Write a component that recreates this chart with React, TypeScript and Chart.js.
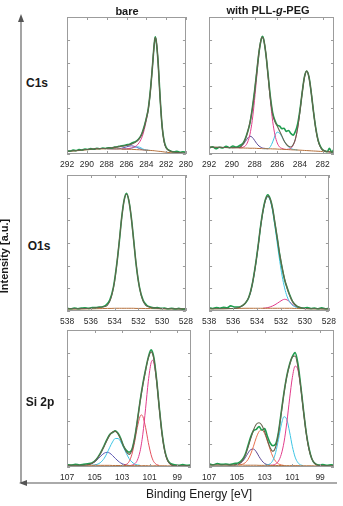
import React, { useEffect, useRef } from 'react';
import { Chart, registerables } from 'chart.js';

Chart.register(...registerables);

// ---------- tick labels ----------
const TICKS_C1S_BARE = [292, 290, 288, 286, 284, 282, 280];
const TICKS_C1S_PEG = [292, 290, 288, 286, 284, 282];
const TICKS_O1S = [538, 536, 534, 532, 530, 528];
const TICKS_SI = [107, 105, 103, 101, 99];

// ---------- C1s, bare ----------
const A_E = [292, 291, 290, 289, 288, 287, 286.5, 286, 285.5, 285, 284.7, 284.4, 284.2, 284, 283.8, 283.6, 283.4, 283.2, 283.1, 283, 282.9, 282.8, 282.6, 282.4, 282.2, 282, 281.6, 281, 280];
const A_FIT = [2.0, 2.6, 3.3, 3.9, 4.2, 5.0, 5.6, 6.2, 7.2, 9.0, 11.2, 15.5, 20, 26, 33, 45, 62, 80, 85, 83, 76, 66, 40, 20, 9, 4.5, 2.2, 1.2, 0.6];
const A_BG = [1.8, 2.4, 3.1, 3.6, 3.8, 3.7, 3.6, 3.5, 3.4, 3.2, 3.1, 3.0, 2.9, 2.8, 2.7, 2.6, 2.5, 2.4, 2.3, 2.2, 2.1, 2.0, 1.9, 1.7, 1.5, 1.3, 1.0, 0.7, 0.4];
const A_MAIN = [null, null, null, null, null, null, 3.6, 3.8, 4.4, 6.0, 8.5, 13, 18, 24.5, 32, 44.5, 62, 80, 85, 83, 76, 66, 40, 20, 9, 4.5, 2.2, 1.2, 0.6];
const A_BLUE = [null, null, null, null, 3.8, 3.7, 4.2, 5.2, 6.0, 5.0, 4.0, 3.2, 2.95, 2.8, 2.7, null, null, null, null, null, null, null, null, null, null, null, null, null, null];
const A_CYAN = [null, null, null, null, null, null, 3.6, 3.6, 4.2, 5.2, 5.0, 3.9, 3.2, 2.85, 2.7, 2.6, null, null, null, null, null, null, null, null, null, null, null, null, null];
const A_DE = [292, 291.7, 291.4, 291.1, 290.8, 290.5, 290.2, 289.9, 289.6, 289.3, 289.0, 288.7, 288.4, 288.1, 287.8, 287.5, 287.2, 286.9, 286.6, 286.3, 286.0, 285.7, 285.4, 285.1, 284.8, 284.5, 284.2, 284.0, 283.8, 283.6, 283.4, 283.2, 283.1, 283.0, 282.8, 282.6, 282.4, 282.2, 282.0, 281.8, 281.5, 281.2, 280.9, 280.6, 280.3, 280.0];
const A_DY = [2.3, 2.1, 2.8, 2.5, 3.2, 2.9, 3.6, 3.3, 3.9, 3.5, 4.2, 3.8, 4.4, 4.0, 4.6, 4.3, 5.0, 5.3, 5.9, 6.1, 6.8, 7.1, 8.2, 9.0, 10.8, 14.0, 20.5, 26, 33, 45.5, 62, 80, 85.5, 82.5, 66, 40.5, 20, 9.5, 4.8, 3.2, 2.0, 1.6, 1.9, 1.3, 1.6, 1.2];

// ---------- C1s, with PLL-g-PEG ----------
const B_E = [292, 291, 290, 289.4, 289.2, 289.0, 288.8, 288.6, 288.4, 288.2, 288.0, 287.8, 287.6, 287.4, 287.3, 287.2, 287.0, 286.8, 286.6, 286.4, 286.2, 286.0, 285.8, 285.6, 285.4, 285.2, 285.0, 284.8, 284.6, 284.4, 284.2, 284.0, 283.8, 283.6, 283.4, 283.2, 283.0, 282.8, 282.6, 282.4, 282.2, 282.0, 281.5, 281];
const B_BG = [5.0, 4.8, 4.6, 4.5, 4.4, 4.4, 4.3, 4.3, 4.2, 4.2, 4.2, 4.1, 4.0, 4.0, 3.9, 3.9, 3.9, 3.8, 3.8, 3.7, 3.7, 3.6, 3.5, 3.5, 3.4, 3.3, 3.2, 3.1, 3.0, 3.0, 2.9, 2.8, 2.7, 2.6, 2.5, 2.4, 2.3, 2.2, 2.1, 2.0, 1.9, 1.8, 1.6, 1.4];
const B_FIT = [5.0, 4.8, 4.6, 4.7, 5.5, 7.5, 10.9, 16.1, 23.2, 32.4, 45.0, 60.3, 75.2, 84.4, 85.4, 83.8, 73.4, 56.7, 40.4, 29.0, 23.5, 20.5, 16.9, 13.4, 9.7, 7.2, 5.6, 5.1, 6.7, 10.9, 19.0, 31.0, 44.8, 56.1, 60.5, 55.9, 44.4, 30.4, 18.2, 9.8, 5.2, 2.9, 1.7, 1.4];
const B_PEAK1 = [null, null, null, 4.5, 4.5, 5.0, 6.0, 8.8, 14.4, 24.4, 39.2, 56.8, 73.4, 83.6, 84.9, 83.5, 73.3, 56.5, 38.8, 23.9, 13.9, 8.1, 5.2, 4.1, 3.5, 3.3, null, null, null, null, null, null, null, null, null, null, null, null, null, null, null, null, null, null];
const B_BLUE = [null, null, 4.6, 4.7, 5.4, 6.9, 9.2, 11.6, 13.0, 12.2, 10.0, 7.6, 5.8, 4.8, 4.4, 4.2, 4.0, 3.8, null, null, null, null, null, null, null, null, null, null, null, null, null, null, null, null, null, null, null, null, null, null, null, null, null, null];
const B_CYAN = [null, null, null, null, null, null, null, null, null, null, null, null, null, null, null, 3.9, 3.9, 4.0, 5.4, 8.8, 13.3, 16.0, 15.2, 12.8, 9.6, 7.0, 5.2, 4.0, 3.4, 3.1, 2.9, null, null, null, null, null, null, null, null, null, null, null, null, null];
const B_PEAK2 = [null, null, null, null, null, null, null, null, null, null, null, null, null, null, null, null, null, null, null, null, null, null, null, null, null, 3.3, 3.55, 4.2, 6.3, 10.8, 19.0, 31.0, 44.8, 56.1, 60.5, 55.9, 44.4, 30.4, 18.2, 9.8, 5.2, 2.9, 1.7, 1.4];
const B_DE = [292, 291.7, 291.4, 291.1, 290.8, 290.5, 290.2, 289.9, 289.6, 289.3, 289.0, 288.8, 288.6, 288.4, 288.2, 288.0, 287.8, 287.6, 287.4, 287.3, 287.2, 287.0, 286.8, 286.6, 286.4, 286.2, 286.0, 285.8, 285.6, 285.4, 285.2, 285.0, 284.8, 284.6, 284.4, 284.2, 284.0, 283.8, 283.6, 283.4, 283.2, 283.0, 282.8, 282.6, 282.4, 282.2, 282.0, 281.8, 281.6, 281.4, 281.2, 281.0];
const B_DY = [4.2, 5.3, 3.8, 4.9, 4.4, 5.6, 4.6, 5.8, 5.0, 6.2, 8.0, 11.5, 16.5, 22.5, 33, 45.5, 60, 74.5, 84, 86, 84, 73, 57.5, 41.5, 30, 24.5, 21, 20.5, 18.5, 18.8, 16.5, 17.2, 15, 13.8, 16.5, 22, 32, 45, 56.5, 60.5, 56, 44.5, 30.5, 18.5, 10, 5.5, 3.0, 2.2, 1.6, 4.2, 1.2, 3.5];

// ---------- O1s, bare ----------
const C_E = [538, 537, 536, 535.5, 535, 534.6, 534.3, 534.0, 533.8, 533.6, 533.4, 533.2, 533.0, 532.8, 532.6, 532.4, 532.2, 532.0, 531.7, 531.4, 531.0, 530.5, 530, 529, 528];
const C_FIT = [1.6, 1.7, 2.0, 2.4, 3.0, 4.3, 9.6, 22, 35.5, 52, 68.8, 81.3, 86, 81.3, 68.8, 52, 35.5, 22, 9.6, 4.3, 2.8, 2.1, 1.8, 1.6, 1.5];
const C_BG = [1.4, 1.5, 1.6, 1.7, 1.8, 1.9, 1.9, 2.0, 2.0, 2.0, 2.0, 2.0, 2.0, 2.0, 2.0, 2.0, 1.9, 1.9, 1.9, 1.8, 1.8, 1.7, 1.6, 1.5, 1.4];
const C_DE = [538, 537.7, 537.4, 537.1, 536.8, 536.5, 536.2, 535.9, 535.6, 535.3, 535.0, 534.7, 534.4, 534.1, 533.8, 533.6, 533.4, 533.2, 533.0, 532.8, 532.6, 532.4, 532.2, 531.9, 531.6, 531.3, 531.0, 530.7, 530.4, 530.1, 529.8, 529.5, 529.2, 528.9, 528.6, 528.3, 528.0];
const C_DY = [2.0, 1.6, 2.2, 1.7, 2.1, 2.4, 1.9, 2.6, 2.5, 2.9, 3.2, 4.6, 8.2, 17.5, 35.8, 51.5, 69, 81.5, 86.5, 81, 69, 52.5, 35, 17, 7.8, 4.2, 2.9, 2.3, 2.6, 1.9, 2.2, 1.6, 2.0, 1.5, 1.9, 1.4, 1.7];

// ---------- O1s, with PLL-g-PEG ----------
const D_E = [538, 537, 536, 535.5, 535.0, 534.6, 534.3, 534.1, 533.9, 533.7, 533.5, 533.3, 533.1, 532.9, 532.7, 532.5, 532.3, 532.1, 531.9, 531.7, 531.5, 531.3, 531.1, 530.9, 530.7, 530.5, 530.2, 530, 529, 528];
const D_BG = [1.6, 1.7, 1.8, 1.9, 2.0, 2.0, 2.0, 2.0, 2.0, 2.0, 2.0, 2.0, 2.0, 2.0, 2.0, 2.0, 2.0, 2.0, 2.0, 2.0, 2.0, 2.0, 2.0, 1.9, 1.9, 1.8, 1.8, 1.7, 1.6, 1.5];
const D_FIT = [1.6, 1.7, 1.8, 2.5, 5.6, 12, 24, 35, 48, 62, 73.4, 81.4, 84.5, 82.2, 75.1, 64.6, 52.8, 41.4, 31.6, 23.6, 17.1, 12, 8, 5.4, 3.6, 2.7, 2.1, 1.8, 1.6, 1.5];
const D_MAIN = [null, null, 1.8, 2.5, 5.6, 12, 24, 35, 48, 62, 73.4, 81.2, 84, 81.2, 73.4, 62, 49.1, 36.5, 25.6, 17, 10.9, 7, 4.6, 3.4, 2.6, 2.2, 2.0, 1.8, null, null];
const D_PINK = [null, null, null, null, null, null, null, null, null, null, 2.0, 2.2, 2.5, 3.0, 3.7, 4.6, 5.7, 6.9, 8.0, 8.6, 8.2, 7.0, 5.4, 3.9, 2.9, 2.3, 1.9, 1.7, null, null];
const D_DE = [538, 537.7, 537.4, 537.1, 536.8, 536.5, 536.2, 535.9, 535.6, 535.3, 535.0, 534.7, 534.4, 534.1, 533.9, 533.7, 533.5, 533.3, 533.1, 532.9, 532.7, 532.5, 532.3, 532.1, 531.9, 531.7, 531.5, 531.3, 531.0, 530.7, 530.4, 530.1, 529.8, 529.5, 529.2, 528.9, 528.6, 528.3, 528.0];
const D_DY = [2.4, 1.8, 2.6, 2.0, 2.8, 2.3, 3.8, 3.0, 2.9, 3.6, 5.5, 9.8, 19.5, 35.5, 48.5, 62.5, 74, 82, 85.5, 82.5, 75.5, 64, 53, 41, 31.5, 23, 17.5, 12.5, 6.5, 3.8, 2.6, 2.1, 2.5, 1.8, 2.2, 1.6, 2.3, 1.7, 2.0];

// ---------- Si 2p, bare ----------
const E_E = [107, 106.5, 106, 105.6, 105.2, 104.9, 104.6, 104.3, 104.1, 103.9, 103.7, 103.5, 103.3, 103.1, 102.9, 102.7, 102.5, 102.3, 102.1, 101.9, 101.7, 101.6, 101.5, 101.3, 101.1, 100.9, 100.8, 100.7, 100.5, 100.3, 100.1, 99.9, 99.7, 99.5, 99.3, 99.0, 98.5, 98];
const E_BG = [1.3, 1.3, 1.3, 1.3, 1.2, 1.2, 1.2, 1.2, 1.2, 1.2, 1.1, 1.1, 1.1, 1.1, 1.1, 1.1, 1.0, 1.0, 1.0, 1.0, 1.0, 1.0, 1.0, 1.0, 0.9, 0.9, 0.9, 0.9, 0.9, 0.9, 0.9, 0.9, 0.8, 0.8, 0.8, 0.8, 0.8, 0.8];
const E_FIT = [1.3, 1.3, 1.3, 1.5, 2.6, 5.0, 9.35, 15.3, 19.6, 23.3, 25.6, 26.0, 24.1, 20.1, 15.4, 11.2, 9.2, 12.0, 20.3, 33.3, 47.5, 53.9, 59.8, 70.4, 79.5, 84.0, 82.9, 78.9, 63.4, 42.6, 23.8, 11.3, 4.7, 2.0, 1.1, 0.8, 0.8, 0.8];
const E_PURPLE = [null, null, null, 1.5, 2.5, 4.5, 7.5, 10.1, 10.7, 10.1, 8.4, 6.3, 4.4, 2.9, 2.0, 1.5, 1.1, null, null, null, null, null, null, null, null, null, null, null, null, null, null, null, null, null, null, null, null, null];
const E_CYAN = [null, null, null, null, 1.3, 1.7, 3.05, 6.4, 10.1, 14.4, 18.3, 20.8, 20.8, 18.3, 14.3, 10.0, 6.2, 3.7, 2.2, 1.5, 1.2, null, null, null, null, null, null, null, null, null, null, null, null, null, null, null, null, null];
const E_RED = [null, null, null, null, null, null, null, null, null, null, null, null, null, null, 1.3, 1.9, 3.9, 9.0, 17.9, 28.9, 36.9, 38, 36.9, 28.9, 17.9, 9.0, 5.9, 3.8, 1.8, 1.1, null, null, null, null, null, null, null, null];
const E_MAG = [null, null, null, null, null, null, null, null, null, null, null, null, null, null, null, null, 1.0, 1.3, 2.2, 4.9, 11.4, 16.9, 23.9, 42.5, 62.6, 76.0, 77.9, 76.0, 62.6, 42.4, 23.8, 11.3, 4.7, 2.0, 1.1, 0.8, null, null];
const E_DE = [107, 106.7, 106.4, 106.1, 105.8, 105.5, 105.2, 104.9, 104.6, 104.3, 104.1, 103.9, 103.7, 103.5, 103.3, 103.1, 102.9, 102.7, 102.5, 102.3, 102.1, 101.9, 101.7, 101.5, 101.3, 101.1, 100.9, 100.7, 100.5, 100.3, 100.1, 99.9, 99.7, 99.5, 99.2, 98.9, 98.6, 98.3, 98.0];
const E_DY = [1.8, 1.4, 2.0, 1.5, 1.9, 2.4, 3.0, 5.3, 9.8, 15.8, 20.2, 23.8, 25.2, 26.5, 24.6, 20.8, 15.2, 12.2, 10.8, 12.5, 20.8, 33.5, 48, 60.5, 71, 80, 85.5, 80, 64, 43, 24.5, 11.8, 5.2, 2.6, 1.6, 1.3, 1.7, 1.2, 1.5];

// ---------- Si 2p, with PLL-g-PEG ----------
const F_E = [107, 106.5, 106, 105.5, 105.2, 104.9, 104.6, 104.4, 104.2, 104.0, 103.8, 103.6, 103.4, 103.2, 103.0, 102.8, 102.6, 102.4, 102.2, 102.0, 101.8, 101.6, 101.4, 101.2, 101.0, 100.8, 100.6, 100.4, 100.2, 100.0, 99.8, 99.6, 99.4, 99.2, 99.0, 98.5, 98];
const F_BG = [1.5, 1.5, 1.5, 1.4, 1.4, 1.4, 1.4, 1.3, 1.3, 1.3, 1.3, 1.3, 1.2, 1.2, 1.2, 1.2, 1.2, 1.1, 1.1, 1.1, 1.1, 1.0, 1.0, 1.0, 1.0, 1.0, 1.0, 0.9, 0.9, 0.9, 0.9, 0.9, 0.8, 0.8, 0.8, 0.8, 0.8];
const F_FIT = [1.5, 1.5, 1.5, 1.4, 1.5, 2.1, 4.7, 8.5, 14.2, 20.9, 27.0, 31.2, 32.3, 30.5, 25.8, 19.7, 14.1, 11.5, 14.8, 24.6, 39.2, 54.0, 66.0, 74.3, 80.4, 81.0, 73.0, 58.6, 40.9, 24.6, 12.9, 6.1, 2.7, 1.4, 0.95, 0.8, 0.8];
const F_PURPLE = [null, null, null, null, 1.5, 2.0, 4.0, 6.7, 10.1, 12.7, 13.1, 11.1, 7.6, 4.6, 2.6, 1.7, 1.3, null, null, null, null, null, null, null, null, null, null, null, null, null, null, null, null, null, null, null, null];
const F_RED = [null, null, null, null, null, 1.5, 2.0, 3.1, 5.4, 9.5, 15.2, 21.4, 25.9, 27.1, 24.4, 18.9, 12.7, 7.4, 4.1, 2.3, 1.5, 1.1, null, null, null, null, null, null, null, null, null, null, null, null, null, null, null];
const F_CYAN = [null, null, null, null, null, null, null, null, null, null, null, null, null, null, 1.2, 1.5, 2.35, 4.9, 10.7, 20.2, 30.7, 36.7, 34.6, 25.6, 15.0, 7.2, 3.2, 1.5, 1.0, null, null, null, null, null, null, null, null];
const F_MAG = [null, null, null, null, null, null, null, null, null, null, null, null, null, null, null, null, 1.3, 1.4, 2.2, 4.3, 9.2, 18.2, 32.4, 49.7, 65.4, 73.6, 70.8, 58.0, 40.8, 24.6, 12.9, 6.1, 2.7, 1.4, 0.95, 0.8, null];
const F_DE = [107, 106.7, 106.4, 106.1, 105.8, 105.5, 105.2, 104.9, 104.6, 104.4, 104.2, 104.0, 103.8, 103.6, 103.4, 103.2, 103.0, 102.8, 102.6, 102.4, 102.2, 102.0, 101.8, 101.6, 101.4, 101.2, 101.0, 100.8, 100.6, 100.4, 100.2, 100.0, 99.8, 99.6, 99.4, 99.1, 98.8, 98.5, 98.2, 98.0];
const F_DY = [2.4, 1.6, 2.6, 1.9, 2.2, 1.8, 2.5, 3.0, 5.5, 9.0, 15.5, 22.0, 26.5, 27.5, 29.5, 27.0, 28.0, 22.5, 17.5, 15.5, 16.8, 25.5, 40.0, 54.5, 66.5, 75, 80.5, 83.5, 75.5, 59.5, 41.5, 25.0, 13.5, 6.0, 2.8, 1.5, 1.8, 1.2, 1.6, 1.3];

// ---------- styles ----------
const COL_DATA = '#1f9d4f';
const COL_FIT = '#66634c';
const COL_BG = '#b5703c';
const COL_MAG = '#e23d8c';
const COL_RED = '#e4505e';
const COL_ORANGE = '#e7704e';
const COL_CYAN = '#3cc4e4';
const COL_BLUE = '#5a55b0';
const COL_PURPLE = '#5b4796';
const TICK_FONT = "'Liberation Sans Narrow', 'Liberation Sans', Arial, sans-serif";
const SANS = "'Liberation Sans', Arial, Helvetica, sans-serif";

type Series = { e: number[]; y: (number | null)[]; color: string; width: number };
type PanelCfg = {
  left: number; top: number; w: number; h: number;
  min: number; max: number; ticks: number[]; series: Series[];
};

const s = (e: number[], y: (number | null)[], color: string, width = 1): Series => ({ e, y, color, width });

const PANELS: PanelCfg[] = [
  {
    left: 62, top: 17, w: 129, h: 137, min: 280, max: 292, ticks: TICKS_C1S_BARE,
    series: [s(A_E, A_FIT, COL_FIT, 1.1), s(A_DE, A_DY, COL_DATA, 1.6), s(A_E, A_BG, COL_BG), s(A_E, A_MAIN, COL_MAG), s(A_E, A_CYAN, COL_CYAN), s(A_E, A_BLUE, COL_BLUE)],
  },
  {
    left: 204, top: 17, w: 130, h: 137, min: 281, max: 292, ticks: TICKS_C1S_PEG,
    series: [s(B_E, B_FIT, COL_FIT, 1.1), s(B_DE, B_DY, COL_DATA, 1.6), s(B_E, B_BG, COL_BG), s(B_E, B_PEAK1, COL_MAG), s(B_E, B_PEAK2, COL_MAG), s(B_E, B_CYAN, COL_CYAN), s(B_E, B_BLUE, COL_PURPLE)],
  },
  {
    left: 62, top: 175, w: 129, h: 136, min: 528, max: 538, ticks: TICKS_O1S,
    series: [s(C_E, C_FIT, COL_FIT, 1.1), s(C_DE, C_DY, COL_DATA, 1.6), s(C_E, C_BG, COL_BG)],
  },
  {
    left: 204, top: 175, w: 130, h: 136, min: 528, max: 538, ticks: TICKS_O1S,
    series: [s(D_E, D_FIT, COL_FIT, 1.1), s(D_DE, D_DY, COL_DATA, 1.6), s(D_E, D_BG, COL_BG), s(D_E, D_MAIN, COL_CYAN), s(D_E, D_PINK, COL_MAG)],
  },
  {
    left: 62, top: 330, w: 129, h: 137, min: 98, max: 107, ticks: TICKS_SI,
    series: [s(E_E, E_FIT, COL_FIT, 1.1), s(E_DE, E_DY, COL_DATA, 1.6), s(E_E, E_BG, COL_BG), s(E_E, E_MAG, COL_MAG), s(E_E, E_RED, COL_RED), s(E_E, E_CYAN, COL_CYAN), s(E_E, E_PURPLE, COL_BLUE)],
  },
  {
    left: 204, top: 330, w: 130, h: 137, min: 98, max: 107, ticks: TICKS_SI,
    series: [s(F_E, F_FIT, COL_FIT, 1.1), s(F_DE, F_DY, COL_DATA, 1.6), s(F_E, F_BG, COL_BG), s(F_E, F_MAG, COL_MAG), s(F_E, F_CYAN, COL_CYAN), s(F_E, F_RED, COL_ORANGE), s(F_E, F_PURPLE, COL_PURPLE)],
  },
];

const PAD_L = 8;
const PAD_T = 2;
const AXIS_H = 18;

const framePlugin = {
  id: 'frameBox',
  afterDraw(chart: any) {
    const { ctx, chartArea: a, scales } = chart;
    ctx.save();
    ctx.strokeStyle = '#9c9c9c';
    ctx.lineWidth = 1;
    ctx.strokeRect(Math.round(a.left) + 0.5, Math.round(a.top) + 0.5, Math.round(a.width) - 1, Math.round(a.height) - 1);
    ctx.beginPath();
    for (const t of scales.x.ticks) {
      const px = Math.round(scales.x.getPixelForValue(t.value)) + 0.5;
      ctx.moveTo(px, a.bottom); ctx.lineTo(px, a.bottom - 3);
      ctx.moveTo(px, a.top); ctx.lineTo(px, a.top + 3);
    }
    for (const t of scales.y.ticks) {
      const py = Math.round(scales.y.getPixelForValue(t.value)) + 0.5;
      ctx.moveTo(a.left, py); ctx.lineTo(a.left + 3, py);
      ctx.moveTo(a.right, py); ctx.lineTo(a.right - 3, py);
    }
    ctx.stroke();
    ctx.restore();
  },
};

function Panel({ cfg }: { cfg: PanelCfg }) {
  const ref = useRef<HTMLCanvasElement>(null);
  const cw = cfg.w + PAD_L * 2;
  const ch = cfg.h + PAD_T + AXIS_H;
  useEffect(() => {
    if (!ref.current) return;
    const chart = new Chart(ref.current, {
      type: 'line',
      data: {
        datasets: cfg.series.map((sr) => ({
          data: sr.e.map((x, i) => ({ x, y: sr.y[i] })).filter((p) => p.y !== null) as any,
          borderColor: sr.color,
          borderWidth: sr.width,
          pointRadius: 0,
          fill: false,
          cubicInterpolationMode: 'monotone',
        })),
      },
      options: {
        animation: false,
        responsive: false,
        devicePixelRatio: 1,
        events: [],
        layout: { padding: { left: PAD_L, right: PAD_L, top: PAD_T, bottom: 0 } },
        plugins: { legend: { display: false }, tooltip: { enabled: false } },
        scales: {
          x: {
            type: 'linear',
            reverse: true,
            min: cfg.min,
            max: cfg.max,
            grid: { display: false, drawTicks: false, tickLength: 0 },
            border: { display: false },
            afterBuildTicks: (sc: any) => { sc.ticks = cfg.ticks.map((v) => ({ value: v })); },
            afterFit: (sc: any) => { sc.height = AXIS_H; },
            ticks: {
              autoSkip: false, maxRotation: 0, minRotation: 0, padding: 6, color: '#2a2a2a',
              font: { family: TICK_FONT, size: 8.5 },
              callback: (v: any) => String(v),
            },
          },
          y: {
            min: 0, max: 100,
            grid: { display: false, drawTicks: false, tickLength: 0 },
            border: { display: false },
            afterFit: (sc: any) => { sc.width = 0; },
            ticks: { display: false, stepSize: 100 / 6 },
          },
        },
      } as any,
      plugins: [framePlugin],
    });
    return () => chart.destroy();
  }, []);
  return (
    <canvas
      ref={ref}
      width={cw}
      height={ch}
      style={{ position: 'absolute', left: cfg.left - PAD_L, top: cfg.top - PAD_T, width: cw, height: ch }}
    />
  );
}

const labelStyle = (x: number, y: number, size: number, weight: number | string = 'bold'): React.CSSProperties => ({
  position: 'absolute', left: x, top: y, transform: 'translate(-50%, -50%)',
  fontFamily: SANS, fontSize: size, fontWeight: weight as any, color: '#1a1a1a', whiteSpace: 'nowrap', lineHeight: 1,
});

export default function App() {
  return (
    <div style={{ position: 'absolute', left: 0, top: 0, width: 343, height: 506, overflow: 'hidden', background: '#fff' }}>
      <svg width={343} height={506} style={{ position: 'absolute', left: 0, top: 0 }}>
        <line x1={21} y1={20} x2={21} y2={483} stroke="#8e8e8e" strokeWidth={1.6} />
        <polygon points="21,14 18,22 24,22" fill="#555" />
        <line x1={21} y1={483} x2={337} y2={483} stroke="#8e8e8e" strokeWidth={1.6} />
        <polygon points="19,483 27,480 27,486" fill="#555" />
      </svg>
      {PANELS.map((p, i) => <Panel key={i} cfg={p} />)}
      <div style={labelStyle(127, 11, 11)}>bare</div>
      <div style={labelStyle(268, 10, 11)}>with PLL-<i>g</i>-PEG</div>
      <div style={labelStyle(37, 83, 12)}>C1s</div>
      <div style={labelStyle(39, 246, 12)}>O1s</div>
      <div style={labelStyle(40, 402, 12)}>Si 2p</div>
      <div style={{ ...labelStyle(4, 256, 11, 600), transform: 'translate(-50%, -50%) rotate(-90deg)' }}>Intensity [a.u.]</div>
      <div style={labelStyle(199, 494, 12, 'normal')}>Binding Energy [eV]</div>
    </div>
  );
}
